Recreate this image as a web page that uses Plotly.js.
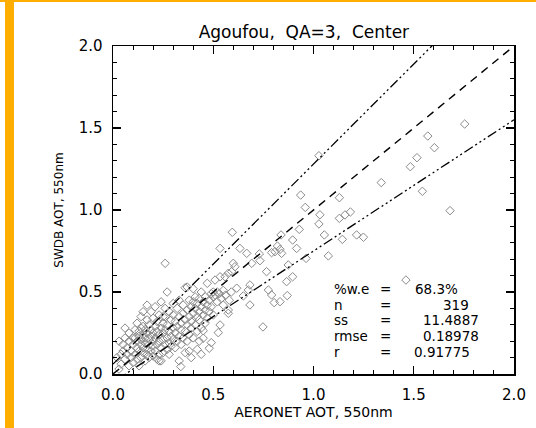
<!DOCTYPE html>
<html>
<head>
<meta charset="utf-8">
<script src="https://cdn.plot.ly/plotly-3.0.1.min.js"></script>
<style>
html,body{margin:0;padding:0;background:#fff;}
#chart{width:536px;height:428px;}
</style>
</head>
<body>
<div id="chart"></div>
<script>
// AERONET AOT (x) and SWDB AOT (y), 550nm
var aeronetAOT = [
 0.02,0.03,0.04,0.05,0.05,0.06,0.06,0.07,0.07,0.08,0.08,0.08,0.09,0.09,0.10,0.10,0.10,0.04,0.03,0.06,
 0.11,0.11,0.12,0.12,0.12,0.12,0.13,0.13,0.13,0.14,0.14,0.14,0.14,0.15,0.15,0.15,0.15,0.16,0.16,0.16,0.16,0.17,0.17,0.17,0.17,0.18,0.18,0.18,0.18,0.19,0.19,0.19,0.19,0.20,0.20,0.20,0.20,0.20,0.13,0.15,0.11,0.17,0.14,
 0.21,0.21,0.21,0.21,0.22,0.22,0.22,0.22,0.23,0.23,0.23,0.23,0.24,0.24,0.24,0.24,0.25,0.25,0.25,0.25,0.26,0.26,0.26,0.26,0.27,0.27,0.27,0.27,0.26,0.28,0.28,0.28,0.28,0.29,0.29,0.29,0.30,0.30,0.30,0.30,0.23,0.25,
 0.31,0.31,0.31,0.32,0.32,0.32,0.33,0.33,0.33,0.338,0.34,0.34,0.34,0.35,0.35,0.35,0.36,0.36,0.36,0.37,0.37,0.37,0.38,0.38,0.38,0.39,0.39,0.39,0.40,0.40,0.40,0.36,0.38,0.39,0.33,0.40,0.37,
 0.41,0.41,0.41,0.42,0.42,0.42,0.43,0.43,0.43,0.44,0.44,0.44,0.45,0.45,0.45,0.45,0.46,0.46,0.46,0.47,0.47,0.47,0.48,0.48,0.48,0.49,0.49,0.49,0.50,0.50,0.50,0.43,0.42,0.44,
 0.509,0.51,0.52,0.52,0.525,0.534,0.534,0.534,0.53,0.54,0.55,0.55,0.559,0.56,0.575,0.575,0.575,0.58,0.59,0.592,0.595,0.60,0.608,0.617,
 0.633,0.650,0.667,0.675,0.683,0.683,0.692,0.730,0.733,0.748,0.766,0.775,0.791,0.791,0.804,0.808,0.820,0.833,0.833,0.838,0.841,0.866,0.869,0.874,
 0.896,0.896,0.916,0.929,0.936,0.959,0.963,1.027,1.027,1.032,1.054,1.074,1.129,1.129,1.144,1.157,1.184,1.215,1.249,1.338,1.461,1.483,1.516,1.543,1.570,1.603,1.681,1.754
];
var swdbAOT = [
 0.10,0.20,0.06,0.14,0.18,0.09,0.22,0.12,0.16,0.05,0.20,0.25,0.10,0.14,0.18,0.22,0.07,0.12,0.03,0.28,
 0.12,0.27,0.09,0.16,0.20,0.31,0.14,0.23,0.26,0.10,0.18,0.21,0.35,0.13,0.16,0.24,0.29,0.08,0.19,0.22,0.27,0.12,0.15,0.25,0.33,0.10,0.18,0.21,0.30,0.14,0.23,0.27,0.38,0.11,0.17,0.20,0.25,0.34,0.05,0.38,0.22,0.42,0.28,
 0.14,0.22,0.29,0.41,0.09,0.18,0.26,0.32,0.12,0.20,0.24,0.36,0.08,0.16,0.28,0.44,0.13,0.21,0.31,0.25,0.18,0.27,0.35,0.40,0.15,0.22,0.30,0.50,0.675,0.12,0.19,0.26,0.38,0.17,0.23,0.33,0.21,0.28,0.36,0.43,0.08,0.35,
 0.16,0.25,0.32,0.20,0.29,0.40,0.23,0.35,0.45,0.045,0.18,0.27,0.31,0.22,0.37,0.42,0.26,0.33,0.526,0.20,0.30,0.39,0.24,0.35,0.45,0.28,0.32,0.41,0.22,0.37,0.44,0.13,0.14,0.10,0.08,0.52,0.53,
 0.30,0.40,0.47,0.26,0.35,0.43,0.33,0.38,0.46,0.28,0.41,0.50,0.36,0.44,0.264,0.218,0.31,0.39,0.47,0.42,0.553,0.34,0.38,0.45,0.157,0.191,0.49,0.41,0.36,0.47,0.50,0.20,0.15,0.12,
 0.573,0.48,0.44,0.50,0.252,0.299,0.593,0.766,0.49,0.46,0.42,0.51,0.593,0.48,0.390,0.370,0.614,0.45,0.50,0.624,0.864,0.675,0.654,0.523,
 0.766,0.476,0.736,0.512,0.543,0.421,0.675,0.732,0.691,0.287,0.624,0.512,0.482,0.740,0.435,0.746,0.780,0.760,0.441,0.848,0.736,0.563,0.478,0.665,
 0.817,0.593,0.766,0.882,1.091,1.016,0.705,0.915,1.331,0.971,0.848,0.720,1.075,0.949,0.821,0.970,0.988,0.848,0.834,1.167,0.573,1.264,1.319,1.114,1.451,1.380,0.996,1.524
];

// reference lines: 1:1 and expected-error envelope
var lineX = [0, 2];
var oneToOneY = [0, 2];
var upperY = [0.06, 2.5];
var lowerY = [-0.05, 1.55];

// statistics text
var statLabels = ['%w.e', 'n', 'ss', 'rmse', 'r'];
var statValues = ['68.3%', '319', '11.4887', '0.18978', '0.91775'];

var tickVals = [0, 0.5, 1.0, 1.5, 2.0];

var FONT = 'DejaVu Sans, Verdana, sans-serif';
var DASHDOT3 = '10px,3px,2px,3px,2px,3px,2px,3px';

var traces = [
  {x: aeronetAOT, y: swdbAOT, type: 'scatter', mode: 'markers',
   marker: {symbol: 'diamond-open', size: 6.5, color: '#8a8a8a', line: {width: 1, color: '#8a8a8a'}},
   hoverinfo: 'skip', showlegend: false},
  {x: lineX, y: oneToOneY, type: 'scatter', mode: 'lines',
   line: {color: '#000', width: 1.4, dash: '8px,6px'}, showlegend: false},
  {x: lineX, y: upperY, type: 'scatter', mode: 'lines',
   line: {color: '#000', width: 1.3, dash: DASHDOT3}, showlegend: false},
  {x: lineX, y: lowerY, type: 'scatter', mode: 'lines',
   line: {color: '#000', width: 1.3, dash: DASHDOT3}, showlegend: false},
  // invisible trace anchoring the mirrored top/right axes
  {x: lineX, y: oneToOneY, xaxis: 'x2', yaxis: 'y2', type: 'scatter', mode: 'markers',
   marker: {opacity: 0}, hoverinfo: 'skip', showlegend: false}
];

var rowY = [0.518, 0.421, 0.329, 0.232, 0.134];
var valRight = [1.726, 1.781, 1.830, 1.830, 1.786];
var annotations = [];
function statNote(x, y, txt, anchor) {
  return {x: x, y: y, xref: 'x', yref: 'y', text: txt, showarrow: false,
    xanchor: anchor, yanchor: 'middle', height: 14, borderpad: 0, valign: 'middle',
    font: {family: FONT, size: 13.5, color: '#000'}};
}
for (var i = 0; i < statLabels.length; i++) {
  annotations.push(statNote(1.097, rowY[i], statLabels[i], 'left'));
  annotations.push(statNote(1.357, rowY[i], '=', 'center'));
  annotations.push(statNote(valRight[i], rowY[i], statValues[i], 'right'));
}

function axisBase() {
  return {
    range: [0, 2], tickvals: tickVals, tickformat: '.1f',
    ticks: 'inside', ticklen: 8, tickwidth: 1.3, tickcolor: '#000',
    minor: {dtick: 0.1, ticks: 'inside', ticklen: 4, tickwidth: 1, tickcolor: '#000'},
    showline: true, linecolor: '#000', linewidth: 1.5,
    showgrid: false, zeroline: false,
    tickfont: {family: FONT, size: 15, color: '#000'},
    ticklabelstandoff: 6
  };
}

var layout = {
  width: 536, height: 428,
  margin: {l: 113, r: 22, t: 46, b: 54},
  paper_bgcolor: '#fff', plot_bgcolor: '#fff',
  title: {text: 'Agoufou,&nbsp; QA=3,&nbsp; Center', x: 0.476, xref: 'paper', xanchor: 'center',
          y: 0.925, yref: 'container', yanchor: 'middle',
          font: {family: FONT, size: 17, color: '#000'}},
  xaxis: Object.assign(axisBase(), {
    title: {text: 'AERONET AOT, 550nm', standoff: 4, font: {family: FONT, size: 14, color: '#000'}}
  }),
  yaxis: Object.assign(axisBase(), {
    title: {text: 'SWDB AOT, 550nm', standoff: 12, font: {family: FONT, size: 12, color: '#000'}}
  }),
  xaxis2: Object.assign(axisBase(), {overlaying: 'x', side: 'top', anchor: 'y2', showticklabels: false}),
  yaxis2: Object.assign(axisBase(), {overlaying: 'y', side: 'right', anchor: 'x2', showticklabels: false}),
  annotations: annotations,
  shapes: [
    {type: 'rect', xref: 'paper', yref: 'paper', x0: -0.2693, x1: -0.2469, y0: -0.17, y1: 1.15,
     fillcolor: '#FFAE00', line: {width: 0}, layer: 'above'},
    {type: 'rect', xref: 'paper', yref: 'paper', x0: -0.30, x1: 1.10, y0: 1.134, y1: 1.15,
     fillcolor: '#FFAE00', line: {width: 0}, layer: 'above'}
  ],
  showlegend: false
};

Plotly.newPlot('chart', traces, layout, {displayModeBar: false, staticPlot: true});
</script>
</body>
</html>
